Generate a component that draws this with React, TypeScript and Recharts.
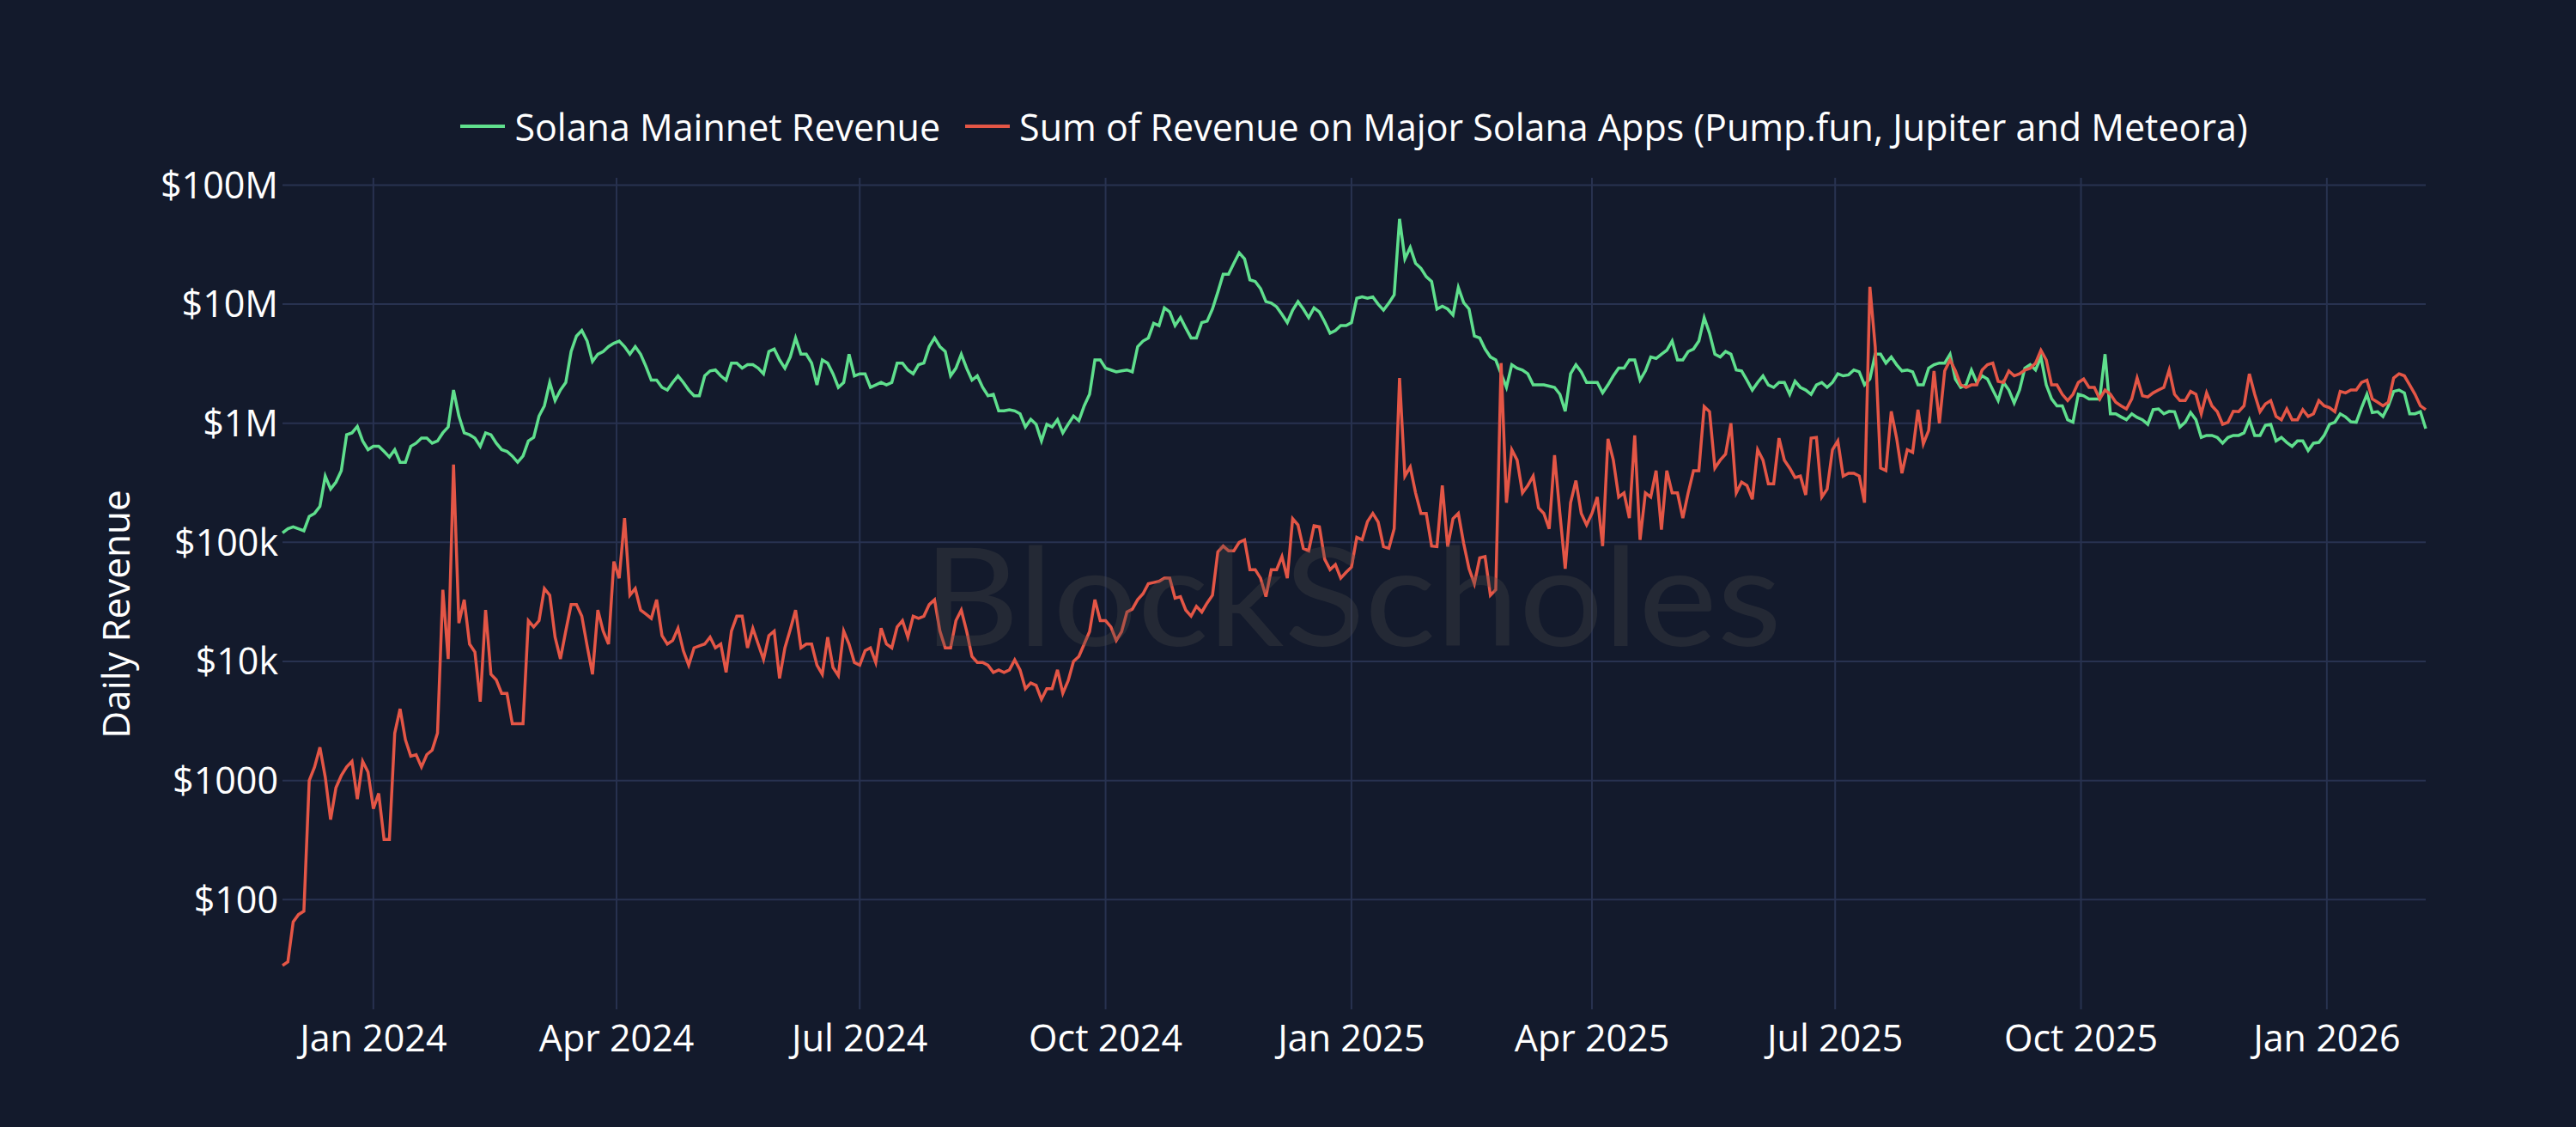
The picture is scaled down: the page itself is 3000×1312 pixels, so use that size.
import React from "react";
import { CartesianGrid, Legend, Line, LineChart, XAxis, YAxis } from "recharts";

// daily revenue, sampled every 2 days starting 2023-11-28
const startDate = "2023-11-28";
const stepDays = 2;

const solanaRevenue = [
  1.2e5, 1.3e5, 1.35e5, 1.3e5, 1.25e5, 1.65e5, 1.75e5, 2.0e5, 3.6e5, 2.8e5,
  3.2e5, 4.0e5, 8.0e5, 8.3e5, 9.4e5, 7.1e5, 6.0e5, 6.4e5, 6.4e5, 5.8e5,
  5.2e5, 6.0e5, 4.7e5, 4.7e5, 6.4e5, 6.8e5, 7.5e5, 7.5e5, 6.8e5, 7.1e5,
  8.3e5, 9.3e5, 1.9e6, 1.15e6, 8.3e5, 8.0e5, 7.5e5, 6.4e5, 8.3e5, 8.0e5,
  6.8e5, 6.0e5, 5.8e5, 5.3e5, 4.7e5, 5.3e5, 7.1e5, 7.6e5, 1.15e6, 1.4e6,
  2.2e6, 1.55e6, 1.9e6, 2.2e6, 4.0e6, 5.4e6, 6.0e6, 4.9e6, 3.3e6, 3.8e6,
  4.0e6, 4.4e6, 4.7e6, 4.9e6, 4.4e6, 3.8e6, 4.4e6, 3.8e6, 3.0e6, 2.3e6,
  2.3e6, 2.0e6, 1.9e6, 2.2e6, 2.5e6, 2.2e6, 1.9e6, 1.7e6, 1.7e6, 2.5e6,
  2.75e6, 2.8e6, 2.5e6, 2.3e6, 3.2e6, 3.2e6, 2.9e6, 3.1e6, 3.1e6, 2.9e6,
  2.6e6, 4.0e6, 4.2e6, 3.4e6, 2.9e6, 3.6e6, 5.2e6, 3.8e6, 3.8e6, 3.2e6,
  2.1e6, 3.4e6, 3.2e6, 2.6e6, 2.0e6, 2.2e6, 3.8e6, 2.5e6, 2.6e6, 2.6e6,
  2.0e6, 2.1e6, 2.2e6, 2.1e6, 2.2e6, 3.2e6, 3.2e6, 2.8e6, 2.6e6, 3.1e6,
  3.2e6, 4.4e6, 5.2e6, 4.4e6, 4.0e6, 2.5e6, 2.9e6, 3.8e6, 2.9e6, 2.3e6,
  2.5e6, 2.0e6, 1.7e6, 1.75e6, 1.27e6, 1.27e6, 1.3e6, 1.27e6, 1.2e6, 9.3e5,
  1.08e6, 9.8e5, 7.1e5, 9.8e5, 9.3e5, 1.07e6, 8.3e5, 9.8e5, 1.15e6, 1.05e6,
  1.4e6, 1.75e6, 3.4e6, 3.4e6, 2.9e6, 2.8e6, 2.7e6, 2.75e6, 2.8e6, 2.7e6,
  4.4e6, 4.9e6, 5.2e6, 6.9e6, 6.6e6, 9.3e6, 8.6e6, 6.6e6, 7.7e6, 6.3e6,
  5.2e6, 5.2e6, 7.0e6, 7.2e6, 9.1e6, 1.26e7, 1.78e7, 1.78e7, 2.2e7, 2.7e7,
  2.4e7, 1.6e7, 1.55e7, 1.35e7, 1.05e7, 1.02e7, 9.5e6, 8.2e6, 7.0e6, 8.9e6,
  1.05e7, 9.1e6, 7.7e6, 9.3e6, 8.6e6, 7.1e6, 5.7e6, 6.0e6, 6.6e6, 6.6e6,
  7.0e6, 1.12e7, 1.15e7, 1.12e7, 1.15e7, 1.0e7, 8.9e6, 1.02e7, 1.2e7, 5.2e7,
  2.4e7, 3.0e7, 2.2e7, 2.0e7, 1.7e7, 1.55e7, 9.1e6, 9.6e6, 9.1e6, 8.1e6,
  1.38e7, 1.03e7, 9.1e6, 5.4e6, 5.2e6, 4.2e6, 3.6e6, 3.4e6, 2.6e6, 2.0e6,
  3.1e6, 2.9e6, 2.8e6, 2.6e6, 2.1e6, 2.1e6, 2.1e6, 2.05e6, 2.0e6, 1.75e6,
  1.26e6, 2.6e6, 3.1e6, 2.7e6, 2.2e6, 2.2e6, 2.2e6, 1.8e6, 2.1e6, 2.5e6,
  2.9e6, 2.9e6, 3.4e6, 3.4e6, 2.3e6, 2.75e6, 3.6e6, 3.5e6, 3.8e6, 4.1e6,
  4.9e6, 3.4e6, 3.4e6, 4.0e6, 4.2e6, 4.9e6, 7.7e6, 5.7e6, 3.8e6, 3.6e6,
  4.0e6, 3.8e6, 2.8e6, 2.75e6, 2.3e6, 1.9e6, 2.2e6, 2.5e6, 2.1e6, 2.0e6,
  2.2e6, 2.2e6, 1.75e6, 2.25e6, 2.0e6, 1.9e6, 1.75e6, 2.1e6, 2.2e6, 2.0e6,
  2.2e6, 2.6e6, 2.5e6, 2.55e6, 2.8e6, 2.7e6, 2.1e6, 2.35e6, 3.8e6, 3.8e6,
  3.2e6, 3.6e6, 3.1e6, 2.75e6, 2.8e6, 2.7e6, 2.1e6, 2.1e6, 2.9e6, 3.1e6,
  3.2e6, 3.2e6, 3.8e6, 2.35e6, 2.0e6, 2.1e6, 2.8e6, 2.2e6, 2.5e6, 2.35e6,
  1.9e6, 1.55e6, 2.2e6, 1.9e6, 1.48e6, 1.9e6, 2.9e6, 3.1e6, 2.8e6, 3.6e6,
  2.1e6, 1.6e6, 1.4e6, 1.4e6, 1.07e6, 1.02e6, 1.75e6, 1.7e6, 1.6e6, 1.6e6,
  1.6e6, 3.8e6, 1.2e6, 1.2e6, 1.13e6, 1.07e6, 1.2e6, 1.12e6, 1.07e6, 9.8e5,
  1.3e6, 1.32e6, 1.2e6, 1.26e6, 1.25e6, 9.3e5, 1.02e6, 1.23e6, 1.07e6, 7.6e5,
  7.9e5, 7.9e5, 7.6e5, 6.8e5, 7.6e5, 7.9e5, 7.9e5, 8.3e5, 1.07e6, 7.9e5,
  7.9e5, 9.6e5, 9.8e5, 7.1e5, 7.6e5, 6.9e5, 6.4e5, 7.1e5, 7.1e5, 5.9e5,
  6.8e5, 6.9e5, 7.9e5, 9.8e5, 1.02e6, 1.2e6, 1.13e6, 1.03e6, 1.02e6, 1.35e6,
  1.75e6, 1.23e6, 1.25e6, 1.14e6, 1.4e6, 1.85e6, 1.9e6, 1.8e6, 1.2e6, 1.2e6,
  1.25e6, 9.0e5,
];

const appsRevenue = [
  28, 30, 65, 75, 80, 1000, 1300, 1900, 1070, 470,
  870, 1100, 1300, 1450, 700, 1450, 1180, 580, 780, 320,
  320, 2500, 4000, 2200, 1600, 1650, 1300, 1650, 1800, 2500,
  40000, 10500, 450000, 21000, 33000, 14000, 12000, 4600, 27000, 7800,
  7000, 5400, 5400, 3000, 3000, 3000, 22000, 19500, 22000, 41000,
  36000, 16000, 10500, 18000, 30000, 30000, 24000, 13500, 7800, 27000,
  18000, 14000, 69000, 50000, 160000, 36000, 41000, 27000, 25000, 23000,
  33000, 16500, 14000, 15000, 19000, 12300, 9300, 13000, 13500, 14000,
  16000, 13000, 14000, 8100, 18000, 24000, 24000, 13000, 19000, 14000,
  10400, 16500, 18000, 7200, 13000, 18500, 27000, 13000, 14000, 14000,
  9300, 7800, 16000, 8900, 7600, 18000, 14000, 9800, 9300, 12300,
  13000, 9800, 19000, 14000, 13000, 19500, 22000, 16000, 24000, 23000,
  24000, 30000, 33000, 18000, 13000, 13000, 22000, 27000, 18000, 11000,
  9800, 9800, 9300, 8100, 8500, 8100, 8500, 10300, 8500, 5900,
  6600, 6300, 4800, 5900, 5900, 8500, 5400, 6900, 10000, 11000,
  14000, 17800, 33000, 22000, 22000, 19500, 15000, 17800, 26000, 27500,
  33000, 37000, 45000, 46000, 47000, 50000, 50000, 34000, 35000, 27000,
  24000, 29000, 26000, 31000, 36000, 83000, 93000, 85000, 85000, 100000,
  105000, 59000, 59000, 50000, 35000, 59000, 59000, 76000, 50000, 158000,
  140000, 89000, 85000, 138000, 135000, 72000, 59000, 65000, 50000, 56000,
  62000, 110000, 105000, 149000, 175000, 148000, 92000, 89000, 130000, 2.4e6,
  360000, 430000, 260000, 175000, 175000, 93000, 92000, 300000, 92000, 158000,
  175000, 98000, 60000, 45000, 74000, 76000, 36000, 40000, 3.2e6, 215000,
  600000, 490000, 260000, 300000, 360000, 195000, 175000, 130000, 540000, 175000,
  60000, 215000, 330000, 175000, 140000, 175000, 240000, 93000, 740000, 490000,
  240000, 260000, 160000, 790000, 105000, 260000, 240000, 400000, 128000, 400000,
  260000, 260000, 160000, 260000, 400000, 400000, 1.38e6, 1.25e6, 420000, 490000,
  550000, 1.0e6, 260000, 320000, 300000, 230000, 600000, 490000, 310000, 310000,
  750000, 490000, 420000, 350000, 360000, 250000, 750000, 760000, 240000, 280000,
  600000, 710000, 360000, 380000, 380000, 360000, 215000, 1.4e7, 4.4e6, 420000,
  400000, 1.26e6, 750000, 380000, 600000, 570000, 1.3e6, 670000, 870000, 2.75e6,
  1.0e6, 2.75e6, 3.4e6, 2.75e6, 2.1e6, 2.0e6, 2.1e6, 2.1e6, 2.8e6, 3.1e6,
  3.2e6, 2.25e6, 2.2e6, 2.75e6, 2.5e6, 2.6e6, 2.8e6, 2.9e6, 3.2e6, 4.1e6,
  3.4e6, 2.1e6, 2.1e6, 1.75e6, 1.55e6, 1.75e6, 2.2e6, 2.35e6, 2.0e6, 2.0e6,
  1.6e6, 1.9e6, 1.75e6, 1.5e6, 1.4e6, 1.32e6, 1.6e6, 2.4e6, 1.7e6, 1.66e6,
  1.8e6, 1.9e6, 2.0e6, 2.8e6, 1.75e6, 1.55e6, 1.55e6, 1.85e6, 1.75e6, 1.2e6,
  1.8e6, 1.4e6, 1.25e6, 9.8e5, 1.02e6, 1.26e6, 1.25e6, 1.4e6, 2.6e6, 1.75e6,
  1.25e6, 1.45e6, 1.55e6, 1.14e6, 1.07e6, 1.32e6, 1.07e6, 1.07e6, 1.3e6, 1.14e6,
  1.2e6, 1.55e6, 1.4e6, 1.35e6, 1.25e6, 1.85e6, 1.8e6, 1.9e6, 1.9e6, 2.2e6,
  2.3e6, 1.6e6, 1.5e6, 1.4e6, 1.5e6, 2.4e6, 2.6e6, 2.5e6, 2.1e6, 1.75e6,
  1.4e6, 1.3e6,
];

const seriesNames = [
  "Solana Mainnet Revenue",
  "Sum of Revenue on Major Solana Apps (Pump.fun, Jupiter and Meteora)",
];

const xTickDates = [
  "2024-01-01", "2024-04-01", "2024-07-01", "2024-10-01",
  "2025-01-01", "2025-04-01", "2025-07-01", "2025-10-01", "2026-01-01",
];
const monthNames = ["Jan", "Feb", "Mar", "Apr", "May", "Jun", "Jul", "Aug", "Sep", "Oct", "Nov", "Dec"];

const yTicks = [100, 1000, 10000, 100000, 1000000, 10000000, 100000000];
const yTickLabels = ["$100", "$1000", "$10k", "$100k", "$1M", "$10M", "$100M"];

const DAY = 86400000;
const t0 = Date.parse(startDate + "T00:00:00Z");
const data = solanaRevenue.map((v, i) => ({
  t: t0 + i * stepDays * DAY,
  solana: v,
  apps: appsRevenue[i],
}));
const xTicks = xTickDates.map((d) => Date.parse(d + "T00:00:00Z"));

const BG = "#131a2c";
const GRID = "#283250";
const GREEN = "#5fdf8d";
const RED = "#e45646";
const FONT = "'Open Sans', sans-serif";

const fmtX = (t: number) => {
  const d = new Date(t);
  return `${monthNames[d.getUTCMonth()]} ${d.getUTCFullYear()}`;
};
const fmtY = (v: number) => yTickLabels[yTicks.indexOf(v)] ?? String(v);

function LegendContent() {
  const colors = [GREEN, RED];
  return (
    <div
      style={{
        display: "flex",
        justifyContent: "center",
        alignItems: "center",
        height: 80,
        fontFamily: FONT,
        fontSize: 43,
        color: "#ffffff",
        whiteSpace: "nowrap",
      }}
    >
      {seriesNames.map((name, i) => (
        <div key={name} style={{ display: "flex", alignItems: "center", marginLeft: i ? 29 : 0 }}>
          <svg width={52} height={10}>
            <line x1={0} y1={5} x2={52} y2={5} stroke={colors[i]} strokeWidth={4} />
          </svg>
          <span style={{ marginLeft: 11 }}>{name}</span>
        </div>
      ))}
    </div>
  );
}

const YTitle = (props: any) => {
  const vb = props.viewBox || {};
  const cx = 134;
  const cy = (vb.y ?? 0) + (vb.height ?? 0) / 2 + 24;
  return (
    <text
      x={cx}
      y={cy}
      transform={`rotate(-90, ${cx}, ${cy})`}
      textAnchor="middle"
      dominantBaseline="central"
      fill="#ffffff"
      fontSize={44}
      fontFamily={FONT}
    >
      Daily Revenue
    </text>
  );
};

export default function App() {
  return (
    <div style={{ position: "absolute", left: 0, top: 0, width: 3000, height: 1312, background: BG }}>
      <LineChart
        width={3000}
        height={1312}
        data={data}
        margin={{ top: 127, right: 175, bottom: 0, left: 0 }}
        style={{ fontFamily: FONT }}
      >
        <CartesianGrid stroke={GRID} strokeWidth={2} syncWithTicks />
        <XAxis
          dataKey="t"
          type="number"
          scale="time"
          domain={["dataMin", "dataMax"]}
          ticks={xTicks}
          tickFormatter={fmtX}
          axisLine={false}
          tickLine={false}
          tickSize={0}
          tickMargin={18}
          height={137}
          tick={{ fill: "#ffffff", fontSize: 43, fontFamily: FONT }}
        />
        <YAxis
          scale="log"
          domain={[12, 115000000]}
          ticks={yTicks}
          tickFormatter={fmtY}
          axisLine={false}
          tickLine={false}
          tickSize={0}
          tickMargin={5}
          width={329}
          allowDataOverflow
          tick={{ fill: "#ffffff", fontSize: 43, fontFamily: FONT }}
          label={{ content: YTitle }}
        />
        <Legend
          verticalAlign="top"
          content={<LegendContent />}
          wrapperStyle={{ left: 329, width: 2496, top: 107 }}
        />
        <Line
          type="linear"
          dataKey="solana"
          name={seriesNames[0]}
          stroke={GREEN}
          strokeWidth={3.5}
          dot={false}
          isAnimationActive={false}
        />
        <Line
          type="linear"
          dataKey="apps"
          name={seriesNames[1]}
          stroke={RED}
          strokeWidth={3.5}
          dot={false}
          isAnimationActive={false}
        />
      </LineChart>
      <svg
        width={3000}
        height={1312}
        style={{ position: "absolute", left: 0, top: 0, pointerEvents: "none" }}
      >
        <text
          x={1575}
          y={752}
          textAnchor="middle"
          fontSize={160}
          fontFamily="Lato, sans-serif"
          fill="#4a4a4a"
          opacity={0.32}
          textLength={1000}
          lengthAdjust="spacingAndGlyphs"
        >
          BlockScholes
        </text>
      </svg>
    </div>
  );
}
